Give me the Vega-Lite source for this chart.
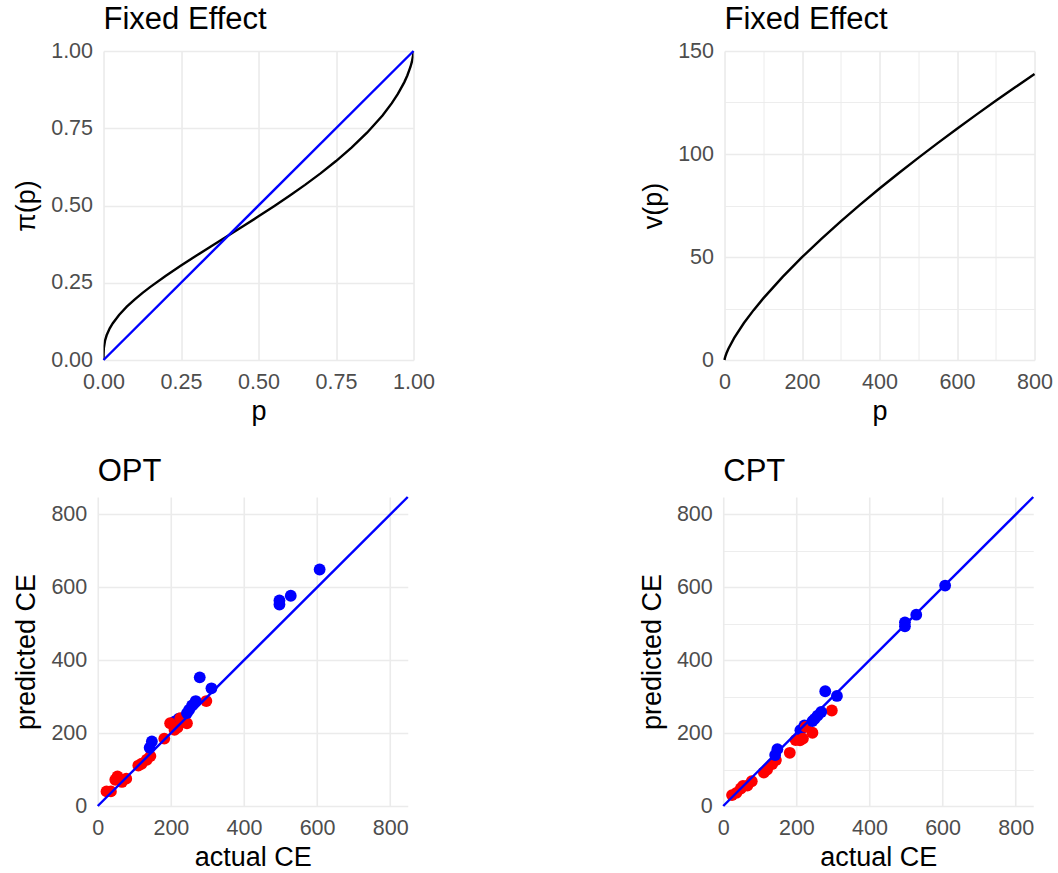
{
  "$schema": "https://vega.github.io/schema/vega-lite/v6.json",
  "padding": {"left": 12.5, "top": 4, "right": 0, "bottom": 0},
  "background": "white",
  "config": {
    "view": {"stroke": null},
    "font": "Liberation Sans",
    "axis": {
      "domain": false,
      "ticks": false,
      "labelColor": "#4D4D4D",
      "labelFontSize": 21.5,
      "labelFont": "Liberation Sans",
      "labelFlush": false,
      "labelOverlap": false,
      "labelPadding": 11,
      "titleFont": "Liberation Sans",
      "titleFontSize": 27,
      "titleFontWeight": "normal",
      "titleColor": "#000000",
      "gridColor": "#EBEBEB"
    },
    "axisX": {"titlePadding": 6},
    "axisY": {"titlePadding": 10},
    "title": {"fontSize": 31, "fontWeight": "normal", "anchor": "start", "frame": "group", "color": "#000000", "font": "Liberation Sans", "offset": 4}
  },
  "datasets": {
    "weight": [
      {"p": 0, "w": 0}, {"p": 0.00001, "w": 0.0111}, {"p": 0.0001, "w": 0.0201}, {"p": 0.001, "w": 0.0383},
      {"p": 0.005, "w": 0.0634}, {"p": 0.01, "w": 0.0800}, {"p": 0.02, "w": 0.1024}, {"p": 0.03, "w": 0.1191},
      {"p": 0.05, "w": 0.1457}, {"p": 0.075, "w": 0.1724}, {"p": 0.1, "w": 0.1955}, {"p": 0.125, "w": 0.2164},
      {"p": 0.15, "w": 0.2358}, {"p": 0.2, "w": 0.2719}, {"p": 0.25, "w": 0.3056}, {"p": 0.3, "w": 0.3380},
      {"p": 0.35, "w": 0.3697}, {"p": 0.4, "w": 0.4012}, {"p": 0.45, "w": 0.4328}, {"p": 0.5, "w": 0.4649},
      {"p": 0.55, "w": 0.4976}, {"p": 0.6, "w": 0.5315}, {"p": 0.65, "w": 0.5668}, {"p": 0.7, "w": 0.6040},
      {"p": 0.75, "w": 0.6439}, {"p": 0.8, "w": 0.6872}, {"p": 0.85, "w": 0.7355}, {"p": 0.9, "w": 0.7915},
      {"p": 0.93, "w": 0.8313}, {"p": 0.95, "w": 0.8619}, {"p": 0.97, "w": 0.8985}, {"p": 0.98, "w": 0.9207},
      {"p": 0.99, "w": 0.9482}, {"p": 0.995, "w": 0.9663}, {"p": 0.999, "w": 0.9876}, {"p": 1, "w": 1}
    ],
    "diag1": [{"v": 0}, {"v": 1}],
    "value": [
      {"p": 0, "v": 0}, {"p": 0.5, "v": 0.6}, {"p": 1, "v": 1}, {"p": 2, "v": 1.67}, {"p": 5, "v": 3.28},
      {"p": 10, "v": 5.47}, {"p": 25, "v": 10.76}, {"p": 50, "v": 17.94}, {"p": 75, "v": 24.2},
      {"p": 100, "v": 29.92}, {"p": 150, "v": 40.36}, {"p": 200, "v": 49.9}, {"p": 250, "v": 58.85},
      {"p": 300, "v": 67.32}, {"p": 350, "v": 75.42}, {"p": 400, "v": 83.24}, {"p": 450, "v": 90.79},
      {"p": 500, "v": 98.14}, {"p": 550, "v": 105.3}, {"p": 600, "v": 112.28}, {"p": 650, "v": 119.11},
      {"p": 700, "v": 125.81}, {"p": 750, "v": 132.38}, {"p": 800, "v": 138.84}
    ],
    "diag2": [{"v": 0}, {"v": 848}],
    "ce": [
      {"grp": "blue", "actual": 222, "opt": 240, "cpt": 221},
      {"grp": "blue", "actual": 211, "opt": 232, "cpt": 208},
      {"grp": "red", "actual": 297, "opt": 288, "cpt": 262},
      {"grp": "red", "actual": 244, "opt": 227, "cpt": 201},
      {"grp": "red", "actual": 226, "opt": 241, "cpt": 217},
      {"grp": "red", "actual": 218, "opt": 215, "cpt": 185},
      {"grp": "red", "actual": 210, "opt": 209, "cpt": 180},
      {"grp": "red", "actual": 198, "opt": 227, "cpt": 181},
      {"grp": "red", "actual": 182, "opt": 185, "cpt": 146},
      {"grp": "red", "actual": 144, "opt": 137, "cpt": 126},
      {"grp": "red", "actual": 134, "opt": 127, "cpt": 115},
      {"grp": "red", "actual": 120, "opt": 116, "cpt": 100},
      {"grp": "red", "actual": 111, "opt": 111, "cpt": 92},
      {"grp": "red", "actual": 78, "opt": 75, "cpt": 68},
      {"grp": "red", "actual": 66, "opt": 66, "cpt": 56},
      {"grp": "red", "actual": 54, "opt": 81, "cpt": 55},
      {"grp": "red", "actual": 48, "opt": 72, "cpt": 48},
      {"grp": "red", "actual": 36, "opt": 40, "cpt": 36},
      {"grp": "red", "actual": 24, "opt": 40, "cpt": 30},
      {"grp": "blue", "actual": 607, "opt": 649, "cpt": 605},
      {"grp": "blue", "actual": 528, "opt": 577, "cpt": 525},
      {"grp": "blue", "actual": 497, "opt": 564, "cpt": 504},
      {"grp": "blue", "actual": 497, "opt": 553, "cpt": 493},
      {"grp": "blue", "actual": 279, "opt": 353, "cpt": 315},
      {"grp": "blue", "actual": 311, "opt": 323, "cpt": 302},
      {"grp": "blue", "actual": 268, "opt": 288, "cpt": 258},
      {"grp": "blue", "actual": 258, "opt": 276, "cpt": 248},
      {"grp": "blue", "actual": 250, "opt": 264, "cpt": 239},
      {"grp": "blue", "actual": 244, "opt": 255, "cpt": 233},
      {"grp": "blue", "actual": 148, "opt": 177, "cpt": 156},
      {"grp": "blue", "actual": 142, "opt": 160, "cpt": 140}
    ]
  },
  "columns": 1,
  "center": true,
  "spacing": 31,
  "concat": [
    {
      "spacing": 205,
      "hconcat": [
        {
          "width": 310, "height": 309,
          "title": "Fixed Effect",
          "layer": [
            {
              "data": {"name": "weight"},
              "mark": {"type": "line", "color": "#000000", "strokeWidth": 2.4, "clip": true},
              "encoding": {
                "x": {"field": "p", "type": "quantitative", "scale": {"domain": [0, 1], "nice": false, "zero": false},
                  "axis": {"title": "p", "values": [0, 0.125, 0.25, 0.375, 0.5, 0.625, 0.75, 0.875, 1],
                    "labelExpr": "datum.value % 0.25 === 0 ? format(datum.value, '.2f') : ''",
                    "gridWidth": {"condition": {"test": "datum.value % 0.25 === 0", "value": 1.6}, "value": 0.9}}},
                "y": {"field": "w", "type": "quantitative", "scale": {"domain": [0, 1], "nice": false, "zero": false},
                  "axis": {"title": "π(p)", "values": [0, 0.125, 0.25, 0.375, 0.5, 0.625, 0.75, 0.875, 1],
                    "labelExpr": "datum.value % 0.25 === 0 ? format(datum.value, '.2f') : ''",
                    "gridWidth": {"condition": {"test": "datum.value % 0.25 === 0", "value": 1.6}, "value": 0.9}}}
              }
            },
            {
              "data": {"name": "diag1"},
              "mark": {"type": "line", "color": "#0000FF", "strokeWidth": 2.4},
              "encoding": {
                "x": {"field": "v", "type": "quantitative"},
                "y": {"field": "v", "type": "quantitative"}
              }
            }
          ]
        },
        {
          "width": 310, "height": 309,
          "title": "Fixed Effect",
          "data": {"name": "value"},
          "mark": {"type": "line", "color": "#000000", "strokeWidth": 2.4},
          "encoding": {
            "x": {"field": "p", "type": "quantitative", "scale": {"domain": [0, 800], "nice": false},
              "axis": {"title": "p", "values": [0, 100, 200, 300, 400, 500, 600, 700, 800],
                "labelExpr": "datum.value % 200 === 0 ? format(datum.value, 'd') : ''",
                "gridWidth": {"condition": {"test": "datum.value % 200 === 0", "value": 1.6}, "value": 0.9}}},
            "y": {"field": "v", "type": "quantitative", "scale": {"domain": [0, 150], "nice": false},
              "axis": {"title": "v(p)", "values": [0, 25, 50, 75, 100, 125, 150],
                "labelExpr": "datum.value % 50 === 0 ? format(datum.value, 'd') : ''",
                "gridWidth": {"condition": {"test": "datum.value % 50 === 0", "value": 1.6}, "value": 0.9}}}
          }
        }
      ]
    },
    {
      "spacing": 225.5,
      "hconcat": [
        {
          "width": 310, "height": 309,
          "title": "OPT",
          "layer": [
            {
              "data": {"name": "ce"},
              "mark": {"type": "circle", "size": 140, "opacity": 1},
              "encoding": {
                "x": {"field": "actual", "type": "quantitative", "scale": {"domain": [0, 848], "nice": false},
                  "axis": {"title": "actual CE", "values": [0, 100, 200, 300, 400, 500, 600, 700, 800],
                    "labelExpr": "datum.value % 200 === 0 ? format(datum.value, 'd') : ''",
                    "gridWidth": {"condition": {"test": "datum.value % 200 === 0", "value": 1.6}, "value": 0.9}}},
                "y": {"field": "opt", "type": "quantitative", "scale": {"domain": [0, 848], "nice": false},
                  "axis": {"title": "predicted CE", "values": [0, 100, 200, 300, 400, 500, 600, 700, 800],
                    "labelExpr": "datum.value % 200 === 0 ? format(datum.value, 'd') : ''",
                    "gridWidth": {"condition": {"test": "datum.value % 200 === 0", "value": 1.6}, "value": 0.9}}},
                "color": {"field": "grp", "type": "nominal", "scale": {"domain": ["red", "blue"], "range": ["#FF0000", "#0000FF"]}, "legend": null}
              }
            },
            {
              "data": {"name": "diag2"},
              "mark": {"type": "line", "color": "#0000FF", "strokeWidth": 2.4},
              "encoding": {
                "x": {"field": "v", "type": "quantitative"},
                "y": {"field": "v", "type": "quantitative"}
              }
            }
          ]
        },
        {
          "width": 310, "height": 309,
          "title": "CPT",
          "resolve": {"axis": {"y": "independent"}},
          "layer": [
            {
              "data": {"name": "ce"},
              "mark": {"type": "circle", "size": 140, "opacity": 1},
              "encoding": {
                "x": {"field": "actual", "type": "quantitative", "scale": {"domain": [0, 848], "nice": false},
                  "axis": {"title": "actual CE", "values": [0, 100, 200, 300, 400, 500, 600, 700, 800],
                    "labelExpr": "datum.value % 200 === 0 ? format(datum.value, 'd') : ''",
                    "gridWidth": {"condition": {"test": "datum.value % 200 === 0", "value": 1.6}, "value": 0.9}}},
                "y": {"field": "cpt", "type": "quantitative", "scale": {"domain": [0, 848], "nice": false},
                  "axis": {"title": "predicted CE", "values": [0, 100, 200, 300, 400, 500, 600, 700, 800],
                    "labelExpr": "datum.value % 200 === 0 ? format(datum.value, 'd') : ''",
                    "gridWidth": {"condition": {"test": "datum.value % 200 === 0", "value": 1.6}, "value": 0.9}}},
                "color": {"field": "grp", "type": "nominal", "scale": {"domain": ["red", "blue"], "range": ["#FF0000", "#0000FF"]}, "legend": null}
              }
            },
            {
              "data": {"name": "diag2"},
              "mark": {"type": "line", "color": "#0000FF", "strokeWidth": 2.4},
              "encoding": {
                "x": {"field": "v", "type": "quantitative"},
                "y": {"field": "v", "type": "quantitative", "scale": {"domain": [0, 848], "nice": false},
                  "axis": {"orient": "right", "title": " ", "titleOpacity": 0, "titleFontSize": 20, "titlePadding": 5, "labels": false, "grid": false, "ticks": false, "domain": false}}
              }
            }
          ]
        }
      ]
    }
  ]
}
